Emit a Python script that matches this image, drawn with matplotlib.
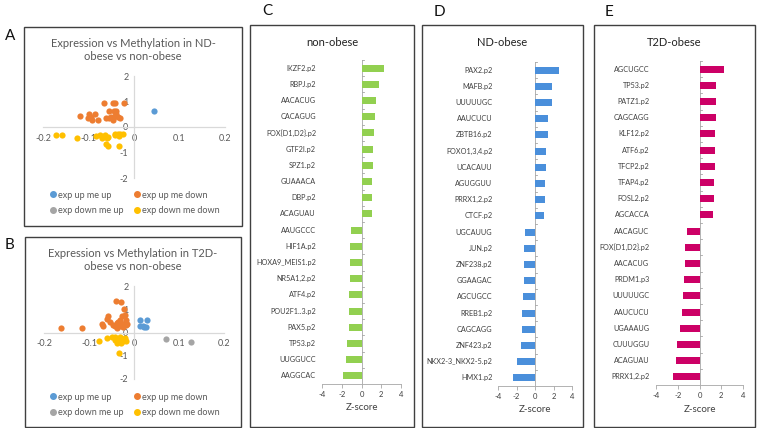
import matplotlib

matplotlib.use("Agg")

import matplotlib.pyplot as plt
from matplotlib.lines import Line2D
from matplotlib.patches import Rectangle

plt.rcParams["font.family"] = ["Lato", "DejaVu Sans"]

W, H = 757, 428

# ---- scatter data (x = methylation diff, y = expression) ----
a_up_up_x = [0.045]
a_up_up_y = [0.61]
a_up_down_x = [-0.065, -0.047, -0.041, -0.023, -0.119, -0.099, -0.085, -0.102, -0.093,
               -0.079, -0.095, -0.054, -0.045, -0.039, -0.061, -0.051, -0.047, -0.035,
               -0.031, -0.039, -0.055, -0.042]
a_up_down_y = [0.93, 0.93, 0.96, 0.96, 0.43, 0.51, 0.51, 0.35, 0.27,
               0.27, 0.40, 0.61, 0.61, 0.64, 0.35, 0.40, 0.29, 0.40,
               0.35, 0.51, 0.37, 0.44]
a_down_up_x = []
a_down_up_y = []
a_down_down_x = [-0.171, -0.158, -0.125, -0.083, -0.074, -0.064, -0.060, -0.057, -0.061,
                 -0.057, -0.034, -0.042, -0.036, -0.031, -0.025, -0.042, -0.032, -0.070]
a_down_down_y = [-0.32, -0.32, -0.44, -0.37, -0.32, -0.32, -0.43, -0.40, -0.67,
                 -0.75, -0.73, -0.27, -0.29, -0.27, -0.27, -0.33, -0.35, -0.43]

b_up_up_x = [0.013, 0.028, 0.014, 0.022, 0.026, 0.019]
b_up_up_y = [0.53, 0.53, 0.26, 0.23, 0.22, 0.26]
b_up_down_x = [-0.163, -0.116, -0.040, -0.030, -0.058, -0.060, -0.071, -0.070, -0.054,
               -0.047, -0.038, -0.032, -0.026, -0.023, -0.020, -0.017, -0.021, -0.043,
               -0.032, -0.025, -0.016, -0.035, -0.028, -0.018, -0.038]
b_up_down_y = [0.18, 0.18, 1.36, 1.31, 0.73, 0.58, 0.38, 0.26, 0.44,
               0.34, 0.41, 0.55, 0.70, 0.99, 0.77, 0.55, 0.41, 0.26,
               0.26, 0.23, 0.38, 0.44, 0.38, 0.32, 0.18]
b_down_up_x = [0.070, 0.126]
b_down_up_y = [-0.26, -0.41]
b_down_down_x = [-0.078, -0.060, -0.049, -0.043, -0.038, -0.034, -0.031, -0.025, -0.019,
                 -0.032, -0.024, -0.028, -0.042, -0.017]
b_down_down_y = [-0.35, -0.23, -0.20, -0.32, -0.47, -0.90, -0.32, -0.26, -0.23,
                 -0.20, -0.38, -0.44, -0.20, -0.35]

# ---- bar data (top to bottom) ----
c_labels = ["IKZF2.p2", "RBPJ.p2", "AACACUG", "CACAGUG", "FOX{D1,D2}.p2", "GTF2I.p2",
            "SPZ1.p2", "GUAAACA", "DBP.p2", "ACAGUAU", "AAUGCCC", "HIF1A.p2",
            "HOXA9_MEIS1.p2", "NR5A1,2.p2", "ATF4.p2", "POU2F1..3.p2", "PAX5.p2",
            "TP53.p2", "UUGGUCC", "AAGGCAC"]
c_values = [2.32, 1.82, 1.51, 1.38, 1.28, 1.21, 1.18, 1.11, 1.08, 1.05,
            -1.11, -1.14, -1.15, -1.18, -1.24, -1.25, -1.28, -1.51, -1.52, -1.88]

d_labels = ["PAX2.p2", "MAFB.p2", "UUUUUGC", "AAUCUCU", "ZBTB16.p2", "FOXO1,3,4.p2",
            "UCACAUU", "AGUGGUU", "PRRX1,2.p2", "CTCF.p2", "UGCAUUG", "JUN.p2",
            "ZNF238.p2", "GGAAGAC", "AGCUGCC", "RREB1.p2", "CAGCAGG", "ZNF423.p2",
            "NKX2-3_NKX2-5.p2", "HMX1.p2"]
d_values = [2.64, 1.88, 1.81, 1.45, 1.45, 1.23, 1.20, 1.12, 1.05, 1.01,
            -1.12, -1.20, -1.23, -1.23, -1.30, -1.38, -1.41, -1.52, -1.96, -2.43]

e_labels = ["AGCUGCC", "TP53.p2", "PATZ1.p2", "CAGCAGG", "KLF12.p2", "ATF6.p2",
            "TFCP2.p2", "TFAP4.p2", "FOSL2.p2", "AGCACCA", "AACAGUC", "FOX{D1,D2}.p2",
            "AACACUG", "PRDM1.p3", "UUUUUGC", "AAUCUCU", "UGAAAUG", "CUUUGGU",
            "ACAGUAU", "PRRX1,2.p2"]
e_values = [2.27, 1.56, 1.53, 1.50, 1.47, 1.41, 1.38, 1.35, 1.32, 1.26,
            -1.17, -1.35, -1.35, -1.38, -1.56, -1.62, -1.78, -2.05, -2.15, -2.45]

C_BLUE, C_ORANGE, C_GREY, C_YELLOW = "#5B9BD5", "#ED7D31", "#A5A5A5", "#FFC000"
TXT = "#595959"
AXC = "#D9D9D9"


def rect(x0, y0, x1, y1):
    return [x0 / W, 1 - y1 / H, (x1 - x0) / W, (y1 - y0) / H]


def frame(fig, x0, y0, x1, y1):
    fig.add_artist(Rectangle((x0 / W, 1 - y1 / H), (x1 - x0) / W, (y1 - y0) / H,
                             transform=fig.transFigure, fill=False,
                             edgecolor="#404040", linewidth=1.0))


def scatter_panel(fig, box, title, series, legend_y):
    x0, y0, x1, y1 = box
    ax = fig.add_axes(rect(x0 + 19, y0 + 49, x1 - 17, y1 - 48))
    for xs, ys, c in series:
        ax.scatter(xs, ys, s=20, color=c, linewidths=0, zorder=3, clip_on=False)
    ax.set_xlim(-0.2, 0.2)
    ax.set_ylim(-2, 2)
    for s in ("top", "right"):
        ax.spines[s].set_visible(False)
    for s in ("left", "bottom"):
        ax.spines[s].set_position("zero")
        ax.spines[s].set_color(AXC)
        ax.spines[s].set_linewidth(0.9)
    ax.set_xticks([-0.2, -0.1, 0, 0.1, 0.2])
    ax.set_xticklabels(["-0.2", "-0.1", "0", "0.1", "0.2"])
    ax.set_yticks([-2, -1, 0, 1, 2])
    ax.set_yticklabels(["-2", "-1", "0", "1", "2"])
    ax.tick_params(length=0, labelsize=6.5, labelcolor=TXT)
    ax.tick_params(axis="x", pad=5)
    ax.tick_params(axis="y", pad=4)
    ax.patch.set_alpha(0)
    fig.text((x0 + x1) / 2 / W, 1 - (y0 + 23) / H, title, ha="center", va="center",
             fontsize=8, color=TXT, linespacing=1.3)
    handles = [Line2D([], [], marker="o", ls="", color=c, markersize=4)
               for c in (C_BLUE, C_GREY, C_ORANGE, C_YELLOW)]
    labels = ["exp up me up", "exp down me up", "exp up me down", "exp down me down"]
    fig.legend(handles, labels, ncol=2, loc="center", frameon=False,
               bbox_to_anchor=((x0 + x1 + 2) / 2 / W, 1 - legend_y / H),
               fontsize=6.5, labelcolor=TXT, handletextpad=0.05, columnspacing=1.0,
               handlelength=1.0, labelspacing=0.75, borderaxespad=0)


def bar_panel(fig, axrect, labels, values, color, title, box):
    x0, y0, x1, y1 = box
    ax = fig.add_axes(rect(*axrect))
    n = len(values)
    ypos = list(range(n))
    ax.barh(ypos, values, height=0.42, color=color, zorder=2)
    ax.set_xlim(-4, 4)
    ax.set_ylim(n - 0.5, -0.5)
    ax.set_xticks([-4, -2, 0, 2, 4])
    ax.set_xticklabels(["-4", "-2", "0", "2", "4"])
    ax.tick_params(axis="x", length=3, width=0.6, color="#A6A6A6", labelsize=5.5,
                   labelcolor="#404040", pad=2)
    ax.set_yticks([])
    for s in ("top", "right", "left"):
        ax.spines[s].set_visible(False)
    ax.spines["bottom"].set_color("#A6A6A6")
    ax.spines["bottom"].set_linewidth(0.6)
    ax.axvline(0, color="#A6A6A6", linewidth=0.6, zorder=1)
    for k in range(n + 1):
        ax.plot([0, 0.25], [k - 0.5, k - 0.5], color="#A6A6A6", linewidth=0.6,
                zorder=1)
    for k, lab in enumerate(labels):
        ax.text(-4.6, k, lab, ha="right", va="center", fontsize=5.2, color="#404040",
                clip_on=False)
    ax.set_xlabel("Z-score", fontsize=7, color="#404040", labelpad=4)
    ax.patch.set_alpha(0)
    fig.text((x0 + x1) / 2 / W, 1 - 42 / H, title, ha="center", va="center",
             fontsize=8, color="#222222")


fig = plt.figure(figsize=(W / 100, H / 100), dpi=100)

frame(fig, 24, 27, 242, 226)
frame(fig, 25, 237, 241, 427)
frame(fig, 250, 25, 414, 427)
frame(fig, 422, 25, 583, 427)
frame(fig, 594, 25, 755, 427)

scatter_panel(fig, (24, 27, 242, 226),
              "Expression vs Methylation in ND-\nobese vs non-obese",
              [(a_up_up_x, a_up_up_y, C_BLUE), (a_up_down_x, a_up_down_y, C_ORANGE),
               (a_down_up_x, a_down_up_y, C_GREY),
               (a_down_down_x, a_down_down_y, C_YELLOW)], 203)
scatter_panel(fig, (25, 237, 241, 427),
              "Expression vs Methylation in T2D-\nobese vs non-obese",
              [(b_up_up_x, b_up_up_y, C_BLUE), (b_up_down_x, b_up_down_y, C_ORANGE),
               (b_down_up_x, b_down_up_y, C_GREY),
               (b_down_down_x, b_down_down_y, C_YELLOW)], 405)

bar_panel(fig, (322, 60, 401, 384), c_labels, c_values, "#92D050", "non-obese",
          (250, 25, 414, 427))
bar_panel(fig, (498, 62, 572, 386), d_labels, d_values, "#4A8FDB", "ND-obese",
          (422, 25, 583, 427))
bar_panel(fig, (656, 61, 743, 385), e_labels, e_values, "#CC0066", "T2D-obese",
          (594, 25, 755, 427))

for lab, x, y in [("A", 5, 36), ("B", 5, 245), ("C", 262, 11), ("D", 434, 12),
                  ("E", 605, 12)]:
    fig.text(x / W, 1 - y / H, lab, ha="left", va="center", fontsize=11,
             color="#111111")

fig.savefig("out.png", dpi=100)
